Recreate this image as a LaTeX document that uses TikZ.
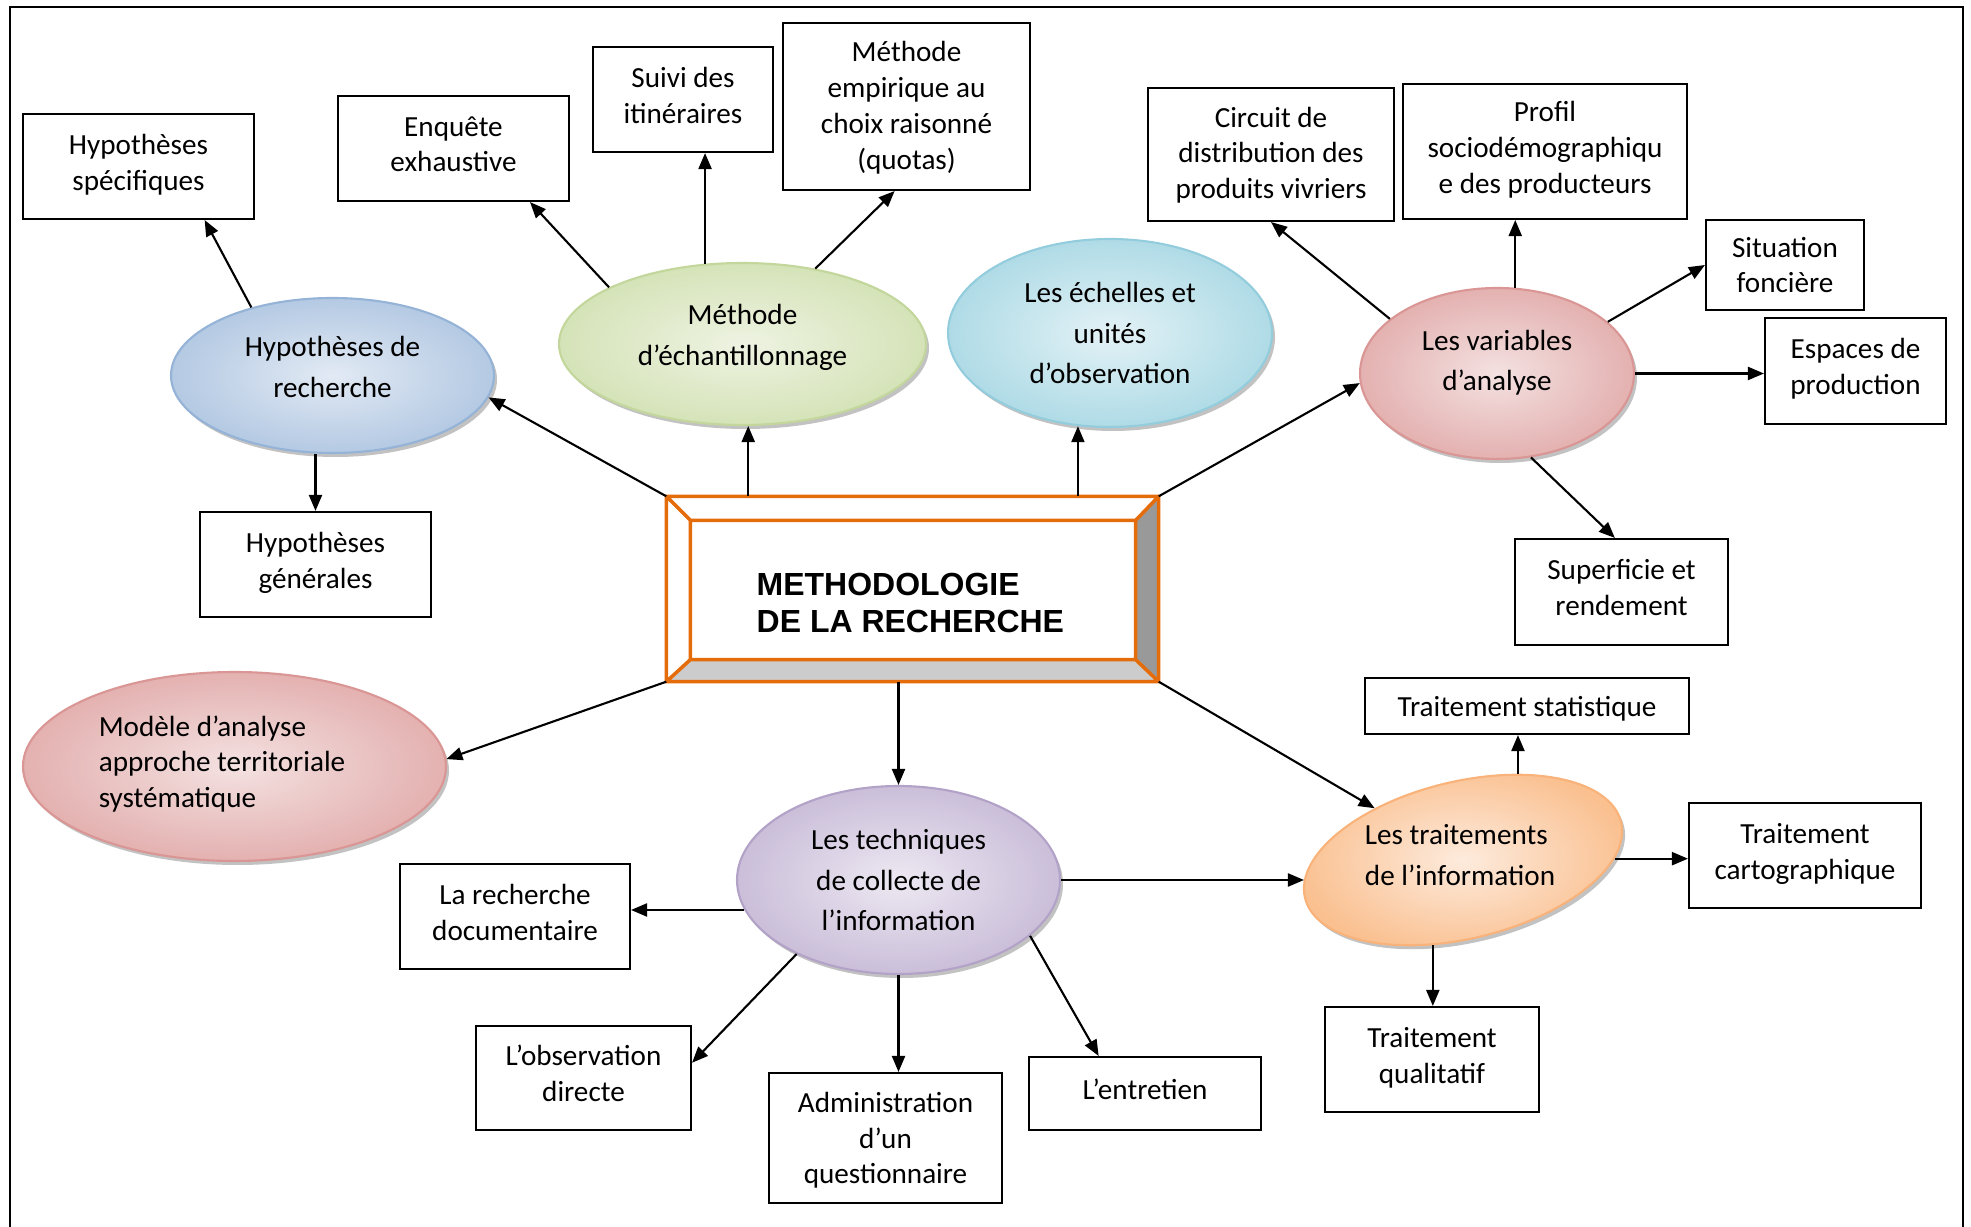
\documentclass[tikz,border=0pt]{standalone}
\usepackage{fontspec}
\setmainfont{Carlito}
\newfontfamily\titrefont{Liberation Sans}
\usetikzlibrary{shapes.geometric,shadows,arrows.meta}

\definecolor{orangeC}{HTML}{E46C0A}
\definecolor{bleuB}{HTML}{95B3D7}
\definecolor{bleuO}{HTML}{B4C9E3}
\definecolor{bleuI}{HTML}{E2EAF4}
\definecolor{vertB}{HTML}{C3D69B}
\definecolor{vertO}{HTML}{D5E3B8}
\definecolor{vertI}{HTML}{EEF3E2}
\definecolor{cyanB}{HTML}{93CDDD}
\definecolor{cyanO}{HTML}{AFDBE6}
\definecolor{cyanI}{HTML}{E3F2F6}
\definecolor{rougeB}{HTML}{D99694}
\definecolor{rougeO}{HTML}{E3B1B0}
\definecolor{rougeI}{HTML}{F4E1E1}
\definecolor{violetB}{HTML}{B3A2C7}
\definecolor{violetO}{HTML}{CABED9}
\definecolor{violetI}{HTML}{EDE8F2}
\definecolor{orangeB}{HTML}{F9B37A}
\definecolor{orangeO}{HTML}{FAC090}
\definecolor{orangeI}{HTML}{FDEBDD}

\begin{document}
\begin{tikzpicture}[x=0.1mm,y=-0.1mm,
    boite/.style={draw,line width=0.6pt,align=center,inner sep=0pt,text depth=2.5pt,font=\fontsize{8.3}{10.2}\selectfont},
    bulle/.style={ellipse,draw,line width=0.6pt,inner sep=0pt,align=center,font=\fontsize{8.3}{11.6}\selectfont,
        drop shadow={shadow xshift=0.3mm,shadow yshift=-0.4mm,fill=black!40,opacity=0.6}},
    fleche/.style={-{Triangle[length=1.6mm,width=1.3mm]},line width=0.6pt}]

        % Cadre
        \useasboundingbox (0,0) rectangle (1971,1227);
        \draw[line width=0.8pt] (10,1227) -- (10,7) -- (1963,7) -- (1963,1227);

        % Bloc central
        \node[minimum width=49.1mm,minimum height=18.4mm,inner sep=0pt] (centre) at (912.5,589) {};
        \node[minimum width=44.4mm,minimum height=13.8mm,inner sep=0pt] (cin) at (913,590) {};
        \fill[gray!80] (centre.north east) -- (centre.south east) -- (cin.south east) -- (cin.north east) -- cycle;
        \fill[gray!40] (centre.south west) -- (centre.south east) -- (cin.south east) -- (cin.south west) -- cycle;
        \draw[orangeC,line width=1pt] (centre.north west) rectangle (centre.south east)
            (cin.north west) rectangle (cin.south east)
            (centre.north west) -- (cin.north west) (centre.north east) -- (cin.north east)
            (centre.south west) -- (cin.south west) (centre.south east) -- (cin.south east);
        \node[font=\titrefont\bfseries\fontsize{9.1}{10.3}\selectfont,align=left,anchor=west,inner sep=0pt] (titre) at (756,603) {METHODOLOGIE\\DE LA RECHERCHE};

        % Ellipses
        \node[bulle,draw=bleuB,inner color=bleuI,outer color=bleuO,minimum width=32.3mm,minimum height=15.5mm,text depth=5pt] (hyp) at (332.5,375.5) {Hypothèses de\\recherche};
        \node[bulle,draw=vertB,inner color=vertI,outer color=vertO,minimum width=36.7mm,minimum height=16.2mm,text depth=5.4pt] (ech) at (742.5,344) {Méthode\\d’échantillonnage};
        \node[bulle,draw=cyanB,inner color=cyanI,outer color=cyanO,minimum width=32.4mm,minimum height=18.8mm] (obsv) at (1110,333) {Les échelles et\\unités\\d’observation};
        \node[bulle,draw=rougeB,inner color=rougeI,outer color=rougeO,minimum width=27.4mm,minimum height=17.1mm,text depth=7.5pt] (var) at (1497,373.5) {Les variables\\d’analyse};
        \node[bulle,draw=rougeB,inner color=rougeI,outer color=rougeO,minimum width=42.3mm,minimum height=18.9mm] (mod) at (234.5,766.5) {};
        \node[align=left,inner sep=0pt,font=\fontsize{8.3}{10.2}\selectfont] (modtxt) at (222,764) {Modèle d’analyse\\approche territoriale\\systématique};
        \node[bulle,draw=violetB,inner color=violetI,outer color=violetO,minimum width=32.3mm,minimum height=18.8mm] (tech) at (898.5,880) {Les techniques\\de collecte de\\l’information};
        \node[bulle,draw=orangeB,inner color=orangeI,outer color=orangeO,minimum width=32.5mm,minimum height=15.7mm,rotate=13.5] (trait) at (1463,860) {};
        \node[align=left,inner sep=0pt,font=\fontsize{8.3}{11.8}\selectfont] (traittxt) at (1460,855) {Les traitements\\de l’information};

        % Cases
        \node[boite,minimum width=23.1mm,minimum height=10.5mm] (hs) at (138.5,166.5) {Hypothèses\\spécifiques};
        \node[boite,minimum width=23.1mm,minimum height=10.5mm] (hg) at (315.5,564.5) {Hypothèses\\générales};
        \node[boite,minimum width=23.1mm,minimum height=10.5mm] (enq) at (453.5,148.5) {Enquête\\exhaustive};
        \node[boite,minimum width=18mm,minimum height=10.5mm] (suivi) at (683,99.5) {Suivi des\\itinéraires};
        \node[boite,minimum width=24.7mm,minimum height=16.7mm,text depth=0.5pt] (emp) at (906.5,106.5) {Méthode\\empirique au\\choix raisonné\\(quotas)};
        \node[boite,minimum width=24.6mm,minimum height=13.3mm,text depth=1pt] (circ) at (1271,154.5) {Circuit de\\distribution des\\produits vivriers};
        \node[boite,minimum width=28.4mm,minimum height=13.5mm] (prof) at (1545,151.5) {Profil\\sociodémographiqu\\e des producteurs};
        \node[boite,minimum width=15.8mm,minimum height=9mm,text depth=0pt,yshift=0pt] (sit) at (1785,265) {Situation\\foncière\rule[-1.2mm]{0pt}{0pt}};
        \node[boite,minimum width=18.1mm,minimum height=10.6mm] (esp) at (1855.5,371) {Espaces de\\production};
        \node[boite,minimum width=21.3mm,minimum height=10.6mm] (sup) at (1621.5,592) {Superficie et\\rendement};
        \node[boite,minimum width=32.4mm,minimum height=5.6mm,text depth=0pt] (stat) at (1527,706) {Traitement statistique};
        \node[boite,minimum width=23.2mm,minimum height=10.5mm] (carto) at (1805,855.5) {Traitement\\cartographique};
        \node[boite,minimum width=21.4mm,minimum height=10.5mm] (qual) at (1432,1059.5) {Traitement\\qualitatif};
        \node[boite,minimum width=23mm,minimum height=10.5mm] (doc) at (515,916.5) {La recherche\\documentaire};
        \node[boite,minimum width=21.5mm,minimum height=10.4mm] (obs) at (583.5,1078) {L’observation\\directe};
        \node[boite,minimum width=23.3mm,minimum height=13mm,text depth=0pt] (adm) at (885.5,1138) {Administration\\d’un\\questionnaire};
        \node[boite,minimum width=23.2mm,minimum height=7.3mm] (ent) at (1145,1093.5) {L’entretien};

        % Fleches du centre
        \draw[fleche] (centre.north west) -- (hyp.-8);
        \draw[fleche] (ech.-86 |- centre.north) -- (ech.-86);
        \draw[fleche] (obsv.-109 |- centre.north) -- (obsv.-109);
        \draw[fleche] (centre.north east) -- (var.184);
        \draw[fleche] (centre.south west) -- (mod.2);
        \draw[fleche] (tech.north |- centre.south) -- (tech.north);
        \draw[fleche] (centre.south east) -- (trait);

        % Hypotheses
        \draw[fleche] (hyp.140) -- (hs.-39);
        \draw[fleche] (hg.north |- hyp.south) -- (hg.north);

        % Echantillonnage
        \draw[fleche] (ech.157) -- (enq.-35);
        \draw[fleche] (ech.115) -- (ech.115 |- suivi.south);
        \draw[fleche] (ech.46) -- (emp.-98);

        % Variables
        \draw[fleche] (var.153) -- (circ.south);
        \draw[fleche] (var.78) -- (var.78 |- prof.south);
        \draw[fleche] (var.25) -- (sit.west);
        \draw[fleche] (var.east) -- (var.east -| esp.west);
        \draw[fleche] (var.-68) -- (sup.97);

        % Traitements
        \draw[fleche] (trait.44) -- (trait.44 |- stat.south);
        \draw[fleche] (trait.-13) -- (trait.-13 -| carto.west);
        \draw[fleche] (trait.-123) -- (trait.-123 |- qual.north);

        % Techniques
        \draw[fleche] (tech.east) -- (tech.east -| trait.west);
        \draw[fleche] (tech.191) -- (tech.191 -| doc.east);
        \draw[fleche] (tech.216) -- (obs.8);
        \draw[fleche] (tech.south) -- (tech.south |- adm.north);
        \draw[fleche] (tech.-23) -- (ent.141);
    \end{tikzpicture}
\end{document}
